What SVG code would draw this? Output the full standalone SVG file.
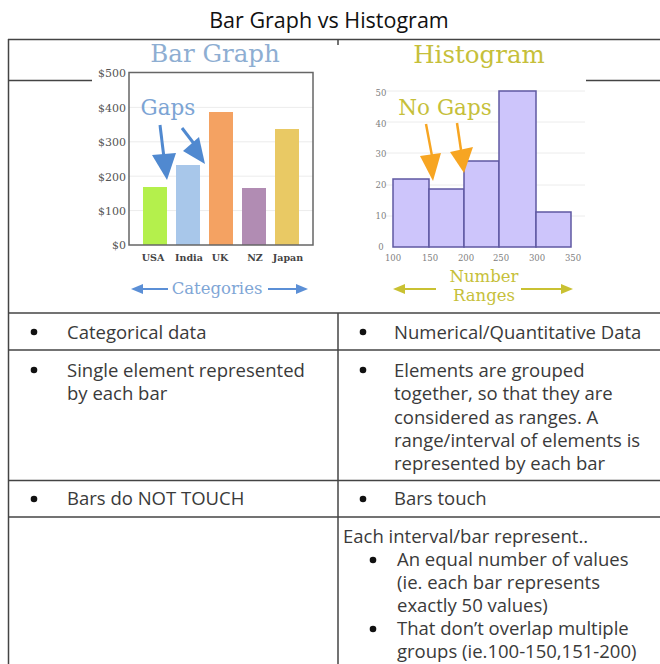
<svg xmlns="http://www.w3.org/2000/svg" width="660" height="664" viewBox="0 0 660 664">
<defs>
<style>
.t{font-family:"Open Sans","Liberation Sans",sans-serif;font-size:18.5px;fill:#3a3a3a}
.ttl{font-family:"Open Sans","Liberation Sans",sans-serif;font-size:21.5px;fill:#111}
.ln{stroke:#444;stroke-width:1.5;fill:none}
.ser{font-family:"DejaVu Serif","Liberation Serif",serif}
.ax{font-family:"DejaVu Serif","Liberation Serif",serif;font-size:11px;fill:#555}
.xl{font-family:"DejaVu Serif","Liberation Serif",serif;font-size:9.5px;fill:#444;font-weight:bold}
.hax{font-family:"DejaVu Serif","Liberation Serif",serif;font-size:8.5px;fill:#808080}
.grid{stroke:#ececec;stroke-width:1}
.hbar{fill:#cdc5fb;stroke:#5f58a2;stroke-width:1.5}
.bul{fill:#111}
</style>
</defs>
<rect width="660" height="664" fill="#fff"/>
<text class="ttl" x="329" y="28" text-anchor="middle">Bar Graph vs Histogram</text>

<g id="table-lines" class="ln">
<line x1="8" y1="39.5" x2="660" y2="39.5"/>
<line x1="8.5" y1="39" x2="8.5" y2="664"/>
<line x1="338" y1="39" x2="338" y2="45"/>
<line x1="8" y1="80.5" x2="92" y2="80.5"/>
<line x1="586" y1="80.5" x2="660" y2="80.5"/>
<line x1="8" y1="313" x2="660" y2="313"/>
<line x1="8" y1="350" x2="660" y2="350"/>
<line x1="8" y1="480.5" x2="660" y2="480.5"/>
<line x1="8" y1="517" x2="660" y2="517"/>
<line x1="338" y1="313" x2="338" y2="664"/>
</g>

<g id="bar-graph">
<text class="ser" x="215" y="62" text-anchor="middle" font-size="24.5" fill="#8eaed2">Bar Graph</text>
<g class="grid">
<line x1="129" y1="107.4" x2="313" y2="107.4"/>
<line x1="129" y1="141.8" x2="313" y2="141.8"/>
<line x1="129" y1="176.2" x2="313" y2="176.2"/>
<line x1="129" y1="210.6" x2="313" y2="210.6"/>
</g>
<rect x="143" y="187" width="24" height="58" fill="#b4f04c"/>
<rect x="176" y="165" width="24" height="80" fill="#a8c7ea"/>
<rect x="209" y="112" width="24" height="133" fill="#f4a262"/>
<rect x="242" y="188" width="24" height="57" fill="#b18cb3"/>
<rect x="275" y="129" width="24" height="116" fill="#e9c964"/>
<rect x="129" y="72.5" width="184" height="172.5" fill="none" stroke="#666" stroke-width="1.5"/>
<g class="ax" text-anchor="end">
<text x="126" y="77">$500</text>
<text x="126" y="112">$400</text>
<text x="126" y="146">$300</text>
<text x="126" y="181">$200</text>
<text x="126" y="215">$100</text>
<text x="126" y="249">$0</text>
</g>
<g class="xl" text-anchor="middle">
<text x="153" y="261">USA</text>
<text x="189" y="261">India</text>
<text x="220" y="261">UK</text>
<text x="255" y="261">NZ</text>
<text x="288" y="261">Japan</text>
</g>
<text class="ser" x="168" y="115" text-anchor="middle" font-size="21.5" fill="#7ca4d4">Gaps</text>
<g fill="#5089d0" stroke="#5089d0">
<line x1="160" y1="125" x2="164" y2="158" stroke-width="3"/>
<polygon points="152,155 176,153 167,180" stroke="none"/>
<line x1="182" y1="128" x2="195" y2="145" stroke-width="3"/>
<polygon points="183,151 199,137 205,164" stroke="none"/>
</g>
<text class="ser" x="217" y="294" text-anchor="middle" font-size="16.5" fill="#7fa6d6">Categories</text>
<g fill="#5b8fd6" stroke="#5b8fd6">
<line x1="140" y1="289" x2="168" y2="289" stroke-width="2"/>
<polygon points="131,289 143,284 143,294" stroke="none"/>
<line x1="268" y1="289" x2="298" y2="289" stroke-width="2"/>
<polygon points="308,289 296,284 296,294" stroke="none"/>
</g>
</g>

<g id="histogram">
<text class="ser" x="479" y="63" text-anchor="middle" font-size="24.5" fill="#c6bf3a">Histogram</text>
<g class="grid">
<line x1="385" y1="91" x2="585" y2="91"/>
<line x1="385" y1="122" x2="585" y2="122"/>
<line x1="385" y1="153" x2="585" y2="153"/>
<line x1="385" y1="185" x2="585" y2="185"/>
<line x1="385" y1="216" x2="585" y2="216"/>
</g>
<rect class="hbar" x="393" y="179" width="36" height="68"/>
<rect class="hbar" x="429" y="189" width="35" height="58"/>
<rect class="hbar" x="464" y="161" width="35" height="86"/>
<rect class="hbar" x="499" y="91" width="37" height="156"/>
<rect class="hbar" x="536" y="212" width="35" height="35"/>
<g class="hax" text-anchor="middle">
<text x="381" y="96">50</text>
<text x="381" y="127">40</text>
<text x="381" y="157">30</text>
<text x="381" y="188">20</text>
<text x="381" y="219">10</text>
<text x="381" y="250">0</text>
<text x="393" y="261">100</text>
<text x="430" y="261">150</text>
<text x="466" y="261">200</text>
<text x="501" y="261">250</text>
<text x="537" y="261">300</text>
<text x="573" y="261">350</text>
</g>
<text class="ser" x="445" y="115" text-anchor="middle" font-size="21.5" fill="#c6bf3a">No Gaps</text>
<g fill="#f7a522" stroke="#f7a522">
<line x1="426" y1="124" x2="432" y2="156" stroke-width="2.5"/>
<polygon points="420,156 441,153 433,181" stroke="none"/>
<line x1="457" y1="123" x2="461" y2="150" stroke-width="2.5"/>
<polygon points="450,152 473,147 464,173" stroke="none"/>
</g>
<text class="ser" x="484" y="282" text-anchor="middle" font-size="16.5" fill="#c6bf3a">Number</text>
<text class="ser" x="484" y="301" text-anchor="middle" font-size="16.5" fill="#c6bf3a">Ranges</text>
<g fill="#c9c132" stroke="#c9c132">
<line x1="402" y1="289" x2="436" y2="289" stroke-width="2"/>
<polygon points="393,289 405,284 405,294" stroke="none"/>
<line x1="521" y1="289" x2="563" y2="289" stroke-width="2"/>
<polygon points="573,289 561,284 561,294" stroke="none"/>
</g>
</g>

<g id="row1">
<circle class="bul" cx="34" cy="332" r="3.3"/>
<text class="t" x="67" y="339">Categorical data</text>
<circle class="bul" cx="363" cy="332" r="3.3"/>
<text class="t" x="394" y="339">Numerical/Quantitative Data</text>
</g>
<g id="row2">
<circle class="bul" cx="34" cy="370" r="3.3"/>
<text class="t" x="67" y="377">Single element represented</text>
<text class="t" x="67" y="400">by each bar</text>
<circle class="bul" cx="363" cy="370" r="3.3"/>
<text class="t" x="394" y="377">Elements are grouped</text>
<text class="t" x="394" y="400.3">together, so that they are</text>
<text class="t" x="394" y="423.5">considered as ranges. A</text>
<text class="t" x="394" y="446.8">range/interval of elements is</text>
<text class="t" x="394" y="470">represented by each bar</text>
</g>
<g id="row3">
<circle class="bul" cx="34" cy="499" r="3.3"/>
<text class="t" x="67" y="505">Bars do NOT TOUCH</text>
<circle class="bul" cx="363" cy="499" r="3.3"/>
<text class="t" x="394" y="505">Bars touch</text>
</g>
<g id="row4">
<text class="t" x="343" y="543" font-size="17">Each interval/bar represent..</text>
<circle class="bul" cx="373" cy="560" r="3.3"/>
<text class="t" x="397" y="566">An equal number of values</text>
<text class="t" x="397" y="589">(ie. each bar represents</text>
<text class="t" x="397" y="612">exactly 50 values)</text>
<circle class="bul" cx="373" cy="629" r="3.3"/>
<text class="t" x="397" y="635">That don’t overlap multiple</text>
<text class="t" x="397" y="658">groups (ie.100-150,151-200)</text>
</g>
</svg>
